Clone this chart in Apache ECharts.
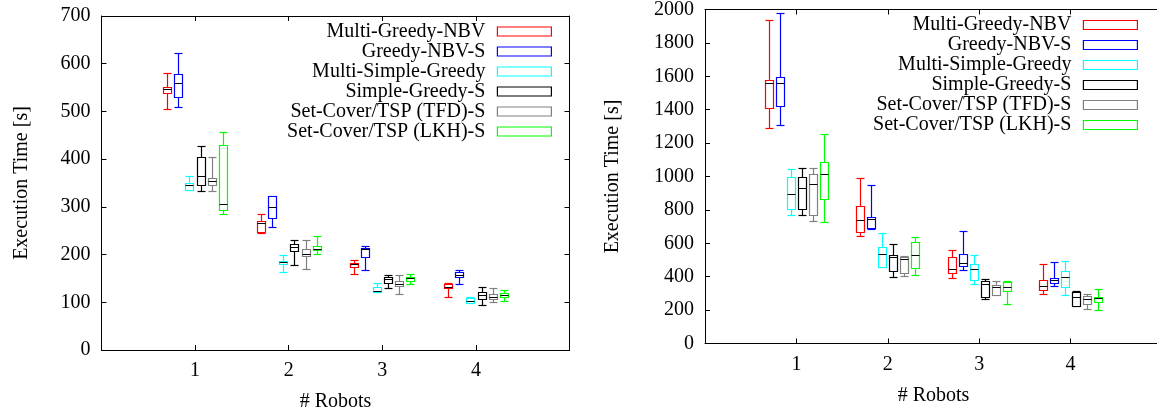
<!DOCTYPE html>
<html>
<head>
<meta charset="utf-8">
<script src="https://cdn.jsdelivr.net/npm/echarts@6/dist/echarts.min.js"></script>
<style>
html,body{margin:0;padding:0;background:#fff;}
#c{width:1157px;height:410px;}
</style>
</head>
<body>
<div id="c"></div>
<script>
// ---- data ----
const categories = [1, 2, 3, 4];
const xTickLabels = ['1', '2', '3', '4'];
const seriesNames = ['Multi-Greedy-NBV', 'Greedy-NBV-S', 'Multi-Simple-Greedy', 'Simple-Greedy-S', 'Set-Cover/TSP (TFD)-S', 'Set-Cover/TSP (LKH)-S'];
const seriesColors = ['#ff0000', '#0000ff', '#00ffff', '#000000', '#808080', '#00ff00'];
const leftYTicks = [0, 100, 200, 300, 400, 500, 600, 700];
const rightYTicks = [0, 200, 400, 600, 800, 1000, 1200, 1400, 1600, 1800, 2000];

// left panel: [min, q1, median, q3, max] per robot count
const leftMultiGreedyNBV   = [[506, 538, 546, 552, 580], [245, 247, 266, 271, 284], [159, 174, 180, 183, 189], [112, 129, 133, 138, 141]];
const leftGreedyNBVS       = [[509, 530, 559, 578, 623], [257, 276, 300, 323, 323], [168, 194, 212, 214, 219], [138, 152, 157, 163, 168]];
const leftMultiSimpleGreedy= [[335, 336, 345, 349, 365], [164, 180, 185, 187, 199], [122, 122, 124, 133, 140], [98, 99, 103, 108, 112]];
const leftSimpleGreedyS    = [[334, 346, 365, 404, 428], [178, 208, 215, 222, 231], [129, 141, 148, 154, 157], [95, 106, 115, 122, 133]];
const leftSetCoverTFD      = [[334, 346, 354, 360, 404], [170, 197, 201, 211, 231], [118, 134, 138, 145, 157], [100, 106, 111, 117, 129]];
const leftSetCoverLKH      = [[285, 293, 305, 430, 456], [201, 210, 212, 219, 238], [138, 144, 150, 154, 160], [102, 112, 115, 120, 126]];

// right panel
const rightMultiGreedyNBV   = [[1292, 1413, 1559, 1580, 1935], [644, 666, 738, 824, 990], [391, 423, 449, 519, 561], [297, 323, 343, 383, 477]];
const rightGreedyNBVS       = [[1306, 1424, 1562, 1594, 1978], [684, 690, 748, 757, 949], [439, 465, 483, 535, 674], [347, 365, 379, 393, 489]];
const rightMultiSimpleGreedy= [[772, 804, 898, 1000, 1042], [458, 459, 537, 579, 662], [359, 383, 445, 475, 529], [293, 337, 401, 437, 497]];
const rightSimpleGreedyS    = [[768, 806, 932, 1000, 1048], [399, 433, 519, 531, 597], [264, 281, 359, 375, 387], [223, 223, 279, 311, 315]];
const rightSetCoverTFD      = [[736, 770, 954, 1012, 1048], [403, 425, 505, 519, 523], [291, 291, 341, 351, 375], [205, 234, 267, 285, 297]];
const rightSetCoverLKH      = [[726, 868, 1014, 1088, 1252], [409, 455, 529, 608, 635], [235, 315, 341, 369, 373], [198, 246, 275, 277, 327]];

const leftData = [leftMultiGreedyNBV, leftGreedyNBVS, leftMultiSimpleGreedy, leftSimpleGreedyS, leftSetCoverTFD, leftSetCoverLKH];
const rightData = [rightMultiGreedyNBV, rightGreedyNBVS, rightMultiSimpleGreedy, rightSimpleGreedyS, rightSetCoverTFD, rightSetCoverLKH];

// ---- layout / style ----
const FONT = "'Liberation Serif', 'DejaVu Serif', serif";
const offsets = [-0.3, -0.18, -0.06, 0.06, 0.18, 0.3];
const HALF = 4;

function makeRenderer(color) {
  return function (params, api) {
    const x = api.value(0);
    const pMin = api.coord([x, api.value(1)]);
    const pQ1 = api.coord([x, api.value(2)]);
    const pMed = api.coord([x, api.value(3)]);
    const pQ3 = api.coord([x, api.value(4)]);
    const pMax = api.coord([x, api.value(5)]);
    const cx = Math.round(pMin[0]) + 0.5;
    const st = {stroke: color, fill: null, lineWidth: 1.2};
    const r = v => Math.round(v) + 0.5;
    return {
      type: 'group',
      children: [
        {type: 'line', shape: {x1: cx, y1: r(pMax[1]), x2: cx, y2: r(pQ3[1])}, style: st},
        {type: 'line', shape: {x1: cx, y1: r(pQ1[1]), x2: cx, y2: r(pMin[1])}, style: st},
        {type: 'line', shape: {x1: cx - HALF, y1: r(pMax[1]), x2: cx + HALF, y2: r(pMax[1])}, style: st},
        {type: 'line', shape: {x1: cx - HALF, y1: r(pMin[1]), x2: cx + HALF, y2: r(pMin[1])}, style: st},
        {type: 'rect', shape: {x: cx - HALF, y: r(pQ3[1]), width: 2 * HALF, height: Math.max(1, r(pQ1[1]) - r(pQ3[1]))}, style: {stroke: color, fill: '#fff', lineWidth: 1.2}},
        {type: 'line', shape: {x1: cx - HALF, y1: r(pMed[1]), x2: cx + HALF, y2: r(pMed[1])}, style: {stroke: '#000', lineWidth: 1}}
      ]
    };
  };
}

function axisSet(gridIndex, yMax, yInterval) {
  const labelStyle = {color: '#000', fontFamily: FONT, fontSize: 20};
  const line = {show: true, onZero: false, lineStyle: {color: '#000', width: 1}};
  const tick = {show: true, inside: true, length: 5, lineStyle: {color: '#000'}};
  return {
    x: [
      {type: 'value', gridIndex, min: 0, max: 5, interval: 1, position: 'bottom',
       axisLine: line, axisTick: tick,
       axisLabel: {...labelStyle, margin: 11, formatter: v => (categories.indexOf(v) >= 0 ? xTickLabels[categories.indexOf(v)] : '')},
       splitLine: {show: false},
       name: '# Robots', nameLocation: 'middle', nameGap: 42, nameTextStyle: {...labelStyle}},
      {type: 'value', gridIndex, min: 0, max: 5, interval: 1, position: 'top',
       axisLine: line, axisTick: tick,
       axisLabel: {show: false}, splitLine: {show: false}}
    ],
    y: [
      {type: 'value', gridIndex, min: 0, max: yMax, interval: yInterval, position: 'left',
       axisLine: line, axisTick: tick,
       axisLabel: {...labelStyle, margin: 11, formatter: v => String(v)}, splitLine: {show: false},
       name: 'Execution Time [s]', nameLocation: 'middle', nameGap: gridIndex === 0 ? 70 : 82, nameTextStyle: {...labelStyle}},
      {type: 'value', gridIndex, min: 0, max: yMax, interval: yInterval, position: 'right',
       axisLine: line, axisTick: tick,
       axisLabel: {show: false}, splitLine: {show: false}}
    ]
  };
}

const a0 = axisSet(0, leftYTicks[leftYTicks.length - 1], leftYTicks[1] - leftYTicks[0]);
const a1 = axisSet(1, rightYTicks[rightYTicks.length - 1], rightYTicks[1] - rightYTicks[0]);

const series = [];
[leftData, rightData].forEach((panel, p) => {
  panel.forEach((rows, s) => {
    series.push({
      type: 'custom',
      name: seriesNames[s],
      xAxisIndex: p * 2,
      yAxisIndex: p * 2,
      color: seriesColors[s],
      itemStyle: {color: seriesColors[s]},
      renderItem: makeRenderer(seriesColors[s]),
      encode: {x: 0, y: [1, 2, 3, 4, 5]},
      data: rows.map((v, g) => [categories[g] + offsets[s], v[0], v[1], v[2], v[3], v[4]]),
      z: 3
    });
  });
});

function legendCfg(right, top) {
  return {
    orient: 'vertical', right, top, align: 'right', padding: 0,
    itemWidth: 54, itemHeight: 9, itemGap: 0,
    selectedMode: false,
    textStyle: {color: '#000', fontFamily: FONT, fontSize: 20, lineHeight: 20, padding: [0, 7, 0, 0]},
    data: seriesNames.map((n, i) => ({name: n, icon: 'rect', itemStyle: {color: '#fff', borderColor: seriesColors[i], borderWidth: 1.2}}))
  };
}

const option = {
  backgroundColor: '#fff',
  animation: false,
  grid: [
    {left: 101.5, top: 16, width: 468, height: 334, containLabel: false, outerBoundsMode: 'none'},
    {left: 705, top: 9.5, width: 457, height: 334, containLabel: false, outerBoundsMode: 'none'}
  ],
  xAxis: [...a0.x, ...a1.x],
  yAxis: [...a0.y, ...a1.y],
  legend: [legendCfg(605, 21.5), legendCfg(19, 15)],
  series
};

const chart = echarts.init(document.getElementById('c'), null, {renderer: 'canvas'});
chart.setOption(option);
</script>
</body>
</html>
